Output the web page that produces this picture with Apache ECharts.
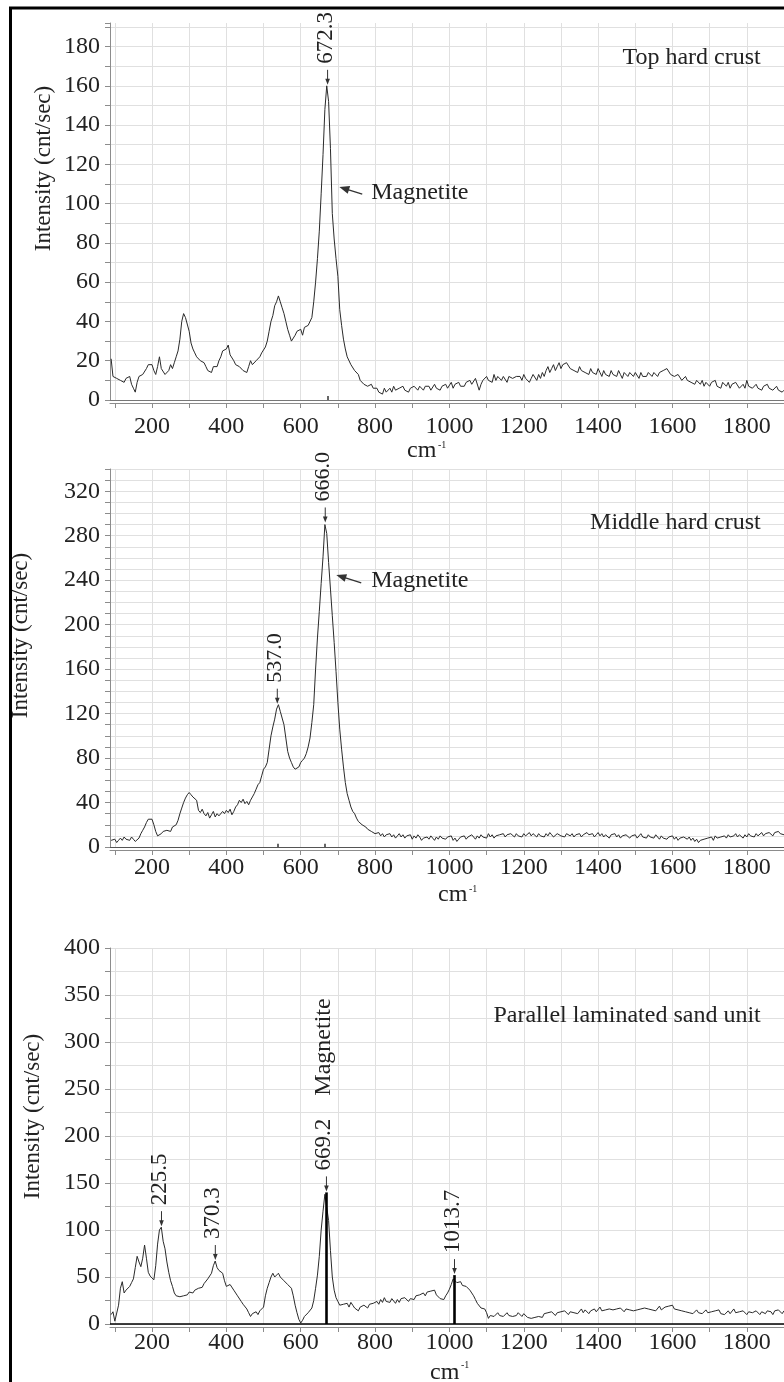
<!DOCTYPE html>
<html><head><meta charset="utf-8">
<script src="https://cdn.jsdelivr.net/npm/echarts@6/dist/echarts.min.js"></script>
<style>html,body{margin:0;padding:0;background:#fff}#c{width:784px;height:1382px}</style>
</head><body><div id="c"></div>
<script>
// ---- data ----
const X_START = 90, X_STEP = 5;   // wavenumber of first sample and sample spacing (cm-1)
const topCrust = [
21,12,13,11,12,10,11,9,11,10,
12,8,6,4,9,12,11,13,12,16,
18,17,18,15,13,17,22,16,17,13,
12,15,18,16,19,22,25,31,40,44,
42,41,35,29,26,24,22,21,20,21,
19,17,15,16,14,17,18,17,20,22,
25,24,26,28,23,22,20,18,19,17,
18,15,14,14,17,20,18,17,20,19,
22,24,25,27,30,35,40,43,48,50,
53,50,47,44,40,36,33,30,31,33,
35,34,36,33,37,36,38,37,42,50,
60,72,86,105,125,148,160,152,128,95,
82,72,63,46,38,31,26,22,21,18,
17,15,14,13,10,9,8,9,7,8,
8,6,5,6,4,5,3,6,4,5,
6,4,7,5,4,6,5,7,5,6,
4,6,5,7,6,5,7,6,5,7,
6,7,5,6,8,6,7,5,7,6,
8,6,7,9,6,8,7,9,7,8,
7,9,8,10,8,9,11,10,5,8,
10,9,12,10,11,9,13,10,12,11,
10,12,11,9,12,13,11,10,12,11,
12,10,13,11,12,9,11,13,12,10,
13,11,14,12,15,17,14,16,18,15,
17,19,16,18,17,19,18,16,17,15,
16,14,17,15,16,14,15,13,16,14,
15,13,16,14,12,15,13,14,12,15,
13,14,12,15,13,11,14,13,12,14,
13,12,14,13,11,14,12,13,12,14,
13,12,14,13,12,14,13,15,14,16,
15,13,14,12,11,13,12,10,11,12,
10,11,9,10,8,10,9,8,10,7,
9,8,7,9,8,10,7,8,6,9,
8,7,9,6,8,7,9,8,6,7,
8,6,10,7,8,6,7,8,6,7,
5,7,6,8,6,7,5,6,7,5,
6,4,5];
const middleCrust = [
6,5,7,4,6,8,6,9,7,8,
6,9,7,5,4,8,12,15,18,22,
25,26,25,20,14,10,9,12,14,13,
15,16,14,18,17,20,24,30,35,40,
44,47,49,47,45,44,42,33,31,34,
30,28,31,26,29,32,27,30,28,29,
32,30,33,31,34,29,32,36,38,42,
40,43,39,41,38,42,45,48,52,56,
58,64,70,72,76,88,100,108,115,124,
128,122,116,110,98,86,80,76,72,70,
69,72,76,78,80,84,90,98,112,128,
160,188,212,237,261,290,282,256,232,208,
184,158,130,106,88,72,58,48,42,36,
32,30,26,23,22,20,19,18,16,17,
14,13,12,11,13,10,12,9,11,10,
12,9,11,8,10,12,9,11,8,10,
9,11,7,10,8,11,9,6,8,7,
9,7,10,8,6,9,7,10,8,9,
7,9,8,10,6,8,5,7,9,8,
10,7,9,8,11,9,7,10,8,11,
9,10,8,12,9,11,8,10,9,11,
10,12,9,11,10,12,11,9,12,10,
11,9,12,10,11,13,10,12,11,9,
12,10,11,9,12,10,13,11,9,10,
12,13,10,11,9,12,11,10,12,9,
11,10,12,9,11,10,13,11,10,12,
9,11,13,10,12,9,11,10,8,11,
10,12,9,11,8,10,9,11,10,8,
10,9,11,8,10,12,9,10,8,11,
9,10,8,11,9,7,10,8,9,7,
9,8,10,7,9,6,8,7,9,8,
7,9,6,8,5,7,4,6,5,7,
6,8,7,9,6,10,8,7,9,8,
10,8,11,9,8,10,12,9,11,10,
8,11,9,12,10,11,9,12,10,11,
13,10,12,11,13,12,10,13,12,14,
12,13,11];
const sandUnit = [
10,13,3,2,20,38,45,33,36,37,
40,44,48,60,72,66,61,70,84,70,
55,51,50,47,62,85,100,103,88,80,
66,55,46,40,33,30,28,29,27,30,
28,31,34,35,33,36,35,38,40,39,
43,44,48,46,54,62,67,60,57,56,
54,46,40,39,42,40,36,33,30,28,
24,21,19,16,12,8,11,9,13,10,
14,12,18,30,38,44,50,54,50,52,
54,50,48,46,44,42,41,38,30,20,
12,5,1,4,8,10,12,14,17,25,
38,52,72,100,120,138,140,110,78,50,
36,28,24,20,18,21,19,22,18,23,
20,17,15,14,18,16,20,18,17,21,
19,22,20,24,21,26,23,28,24,26,
23,27,25,22,26,23,27,25,28,26,
24,27,29,26,30,28,31,29,33,30,
34,32,35,33,36,31,30,27,28,26,
30,33,37,42,48,50,44,42,45,41,
43,40,38,36,33,30,26,22,20,17,
15,16,12,6,9,11,8,10,12,9,
11,8,10,12,9,11,8,10,9,12,
10,8,11,9,7,9,6,5,7,6,
8,10,7,11,9,12,10,13,11,9,
12,10,13,11,14,12,10,13,15,12,
14,11,13,16,12,15,13,11,14,12,
16,13,15,18,14,12,15,13,16,14,
15,13,16,14,17,15,13,16,14,15,
17,14,16,15,13,16,14,17,15,16,
18,15,17,14,16,19,15,17,18,16,
19,17,20,16,18,15,17,14,16,13,
15,12,14,11,13,15,12,14,11,13,
15,12,10,13,11,14,12,15,11,13,
10,12,14,11,13,16,12,10,13,11,
14,12,10,13,15,12,11,14,12,10,
13,15,11,14,12,13,10,14,12,15,
13,11,14];
const xTickValues = [100,200,300,400,500,600,700,800,900,1000,1100,1200,1300,1400,1500,1600,1700,1800,1900];
const xLabelValues = [200,400,600,800,1000,1200,1400,1600,1800];
const panelTitles = ['Top hard crust', 'Middle hard crust', 'Parallel laminated sand unit'];
const yMaxes = [192, 340, 400];
const yTickSteps = [10, 10, 25];
const yLabelSteps = [20, 40, 50];
const peaksTop = [[672.3, 160]];
const peaksMiddle = [[666.0, 291], [537.0, 128]];
const peaksSand = [[225.5, 103], [370.3, 67], [669.2, 140], [1013.7, 52]];
const sandSticks = [[669.2, 140], [1013.7, 52]];
const tinySticks = [[[672.3, 2]], [[537.0, 3], [666.0, 3]], []];

// ---- layout / style ----
const FONT = '"Liberation Serif", "Times New Roman", serif';
const TXT = '#222';
const GRIDS = [
  {left: 110, top: 23, width: 676, height: 377},
  {left: 110, top: 469, width: 676, height: 378},
  {left: 110, top: 948, width: 676, height: 376}
];
const X_MIN = 87, X_MAX = 1900;
const xLabelMargins = [12, 6, 4];

const chart = echarts.init(document.getElementById('c'));
const allSeriesVals = [topCrust, middleCrust, sandUnit];
const toPairs = vals => vals.map((v, i) => [X_START + i * X_STEP, v]);

const xAxes = [], yAxes = [], series = [];
for (let i = 0; i < 3; i++) {
  xAxes.push({
    gridIndex: i, type: 'value', min: X_MIN, max: X_MAX, offset: 3,
    axisLine: {show: true, onZero: false, lineStyle: {color: '#8c8c8c', width: 1}},
    axisTick: {show: true, length: 5, customValues: xTickValues, lineStyle: {color: '#8c8c8c'}},
    axisLabel: {customValues: xLabelValues, margin: xLabelMargins[i], fontFamily: FONT, fontSize: 24, color: TXT,
      formatter: v => String(Math.round(v))},
    splitLine: {show: true, lineStyle: {color: '#e0e0e0', width: 1}}
  });
  const ls = yLabelSteps[i];
  yAxes.push({
    gridIndex: i, type: 'value', min: 0, max: yMaxes[i], interval: yTickSteps[i],
    axisLine: {show: true, lineStyle: {color: '#8c8c8c', width: 1}},
    axisTick: {show: true, length: 5, lineStyle: {color: '#8c8c8c'}},
    axisLabel: {margin: 10, fontFamily: FONT, fontSize: 24, color: TXT,
      formatter: v => (Math.abs(v % ls) < 1e-6 ? String(v) : '')},
    splitLine: {show: true, showMaxLine: i !== 0, lineStyle: {color: '#e0e0e0', width: 1}}
  });
  const ml = [];
  ml.push({yAxis: 0, lineStyle: {color: i === 2 ? '#000' : (i === 1 ? '#555' : '#777'), width: i === 2 ? 1.6 : 1.2, type: 'solid'}});
  tinySticks[i].forEach(([x, h]) => ml.push([{coord: [x, 0], lineStyle: {color: '#333', width: 1.5, type: 'solid'}}, {coord: [x, h]}]));
  if (i === 2) sandSticks.forEach(([x, h]) => ml.push([{coord: [x, 0], lineStyle: {color: '#000', width: 2.6, type: 'solid'}}, {coord: [x, h]}]));
  series.push({
    type: 'line', xAxisIndex: i, yAxisIndex: i, data: toPairs(allSeriesVals[i]),
    showSymbol: false, symbol: 'none', silent: true, animation: false,
    lineStyle: {color: '#2a2a2a', width: 1},
    markLine: {silent: true, animation: false, symbol: ['none', 'none'], label: {show: false}, data: ml}
  });
}

chart.setOption({
  animation: false,
  backgroundColor: '#fff',
  grid: GRIDS,
  xAxis: xAxes, yAxis: yAxes, series: series
});

// ---- annotations (positioned through the chart's own scales) ----
const P = (g, x, y) => chart.convertToPixel({gridIndex: g}, [x, y]);
const els = [];
function text(x, y, str, size, opts) {
  els.push(Object.assign({type: 'text', x: x, y: y, z: 50,
    style: Object.assign({text: str, fontFamily: FONT, fontSize: size, fill: TXT, align: 'left', verticalAlign: 'middle'}, (opts && opts.style) || {})},
    (opts && opts.el) || {}));
}
function peakMarks(g, peaks, size) {
  peaks.forEach(([x, y]) => {
    const [cx, cy] = P(g, x, y);
    const tip = cy - 1, tail = tip - 15;
    els.push({type: 'line', z: 50, shape: {x1: cx, y1: tail, x2: cx, y2: tip - 4}, style: {stroke: '#333', lineWidth: 1}});
    els.push({type: 'polygon', z: 50, shape: {points: [[cx - 2.3, tip - 6], [cx + 2.3, tip - 6], [cx, tip]]}, style: {fill: '#333'}});
    text(cx - 2, tail - 6, x.toFixed(1), size, {el: {rotation: Math.PI / 2}});
  });
}
function bigArrow(g, from, to) {
  const [x1, y1] = P(g, from[0], from[1]);
  const [x2, y2] = P(g, to[0], to[1]);
  const dx = x2 - x1, dy = y2 - y1, L = Math.hypot(dx, dy), ux = dx / L, uy = dy / L;
  const hl = 10, hw = 4;
  const bx = x2 - ux * hl, by = y2 - uy * hl;
  els.push({type: 'line', z: 50, shape: {x1: x1, y1: y1, x2: bx + ux * 2, y2: by + uy * 2}, style: {stroke: '#333', lineWidth: 1.3}});
  els.push({type: 'polygon', z: 50, shape: {points: [[x2, y2], [bx - uy * hw, by + ux * hw], [bx + uy * hw, by - ux * hw]]}, style: {fill: '#333'}});
}
peakMarks(0, peaksTop, 23);
peakMarks(1, peaksMiddle, 22);
peakMarks(2, peaksSand, 23);

// "Magnetite" pointers
bigArrow(0, [765.5, 104.9], [704, 108.5]);
let p = P(0, 789.6, 105.4); text(p[0], p[1], 'Magnetite', 24);
bigArrow(1, [762.8, 237.5], [695.8, 244.7]);
p = P(1, 789.6, 239.6); text(p[0], p[1], 'Magnetite', 24);
p = P(2, 663, 294.7); text(p[0], p[1], 'Magnetite', 24, {el: {rotation: Math.PI / 2}, style: {align: 'center'}});

// panel titles (right aligned)
p = P(0, 1837.4, 174.4); text(p[0], p[1], panelTitles[0], 24, {style: {align: 'right'}});
p = P(1, 1837.4, 291.9); text(p[0], p[1], panelTitles[1], 24, {style: {align: 'right'}});
p = P(2, 1837.4, 328); text(p[0], p[1], panelTitles[2], 24, {style: {align: 'right'}});

// axis titles
const yTitlePos = [[44, 168.5], [21, 635.5], [33, 1116.5]];
yTitlePos.forEach(([x, y]) => text(x, y, 'Intensity (cnt/sec)', 23, {el: {rotation: Math.PI / 2}, style: {align: 'center'}}));
const cmPos = [[407, 451, 438, 445], [438, 895, 469, 889], [430, 1373, 461, 1365]];
cmPos.forEach(([x, y, sx, sy]) => {
  text(x, y, 'cm', 24);
  text(sx, sy, '-1', 10);
});

// outer frame
els.push({type: 'rect', z: 60, shape: {x: 10.5, y: 8, width: 900, height: 1500}, style: {fill: 'none', stroke: '#000', lineWidth: 3}});

chart.setOption({graphic: els});
</script>
</body></html>
